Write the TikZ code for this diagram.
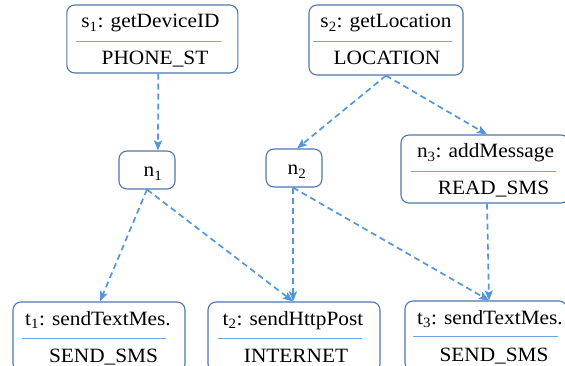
\documentclass[tikz,border=0pt]{standalone}
\usepackage{fontspec}
\setmainfont{Liberation Serif}
\newfontfamily\boxfont{Liberation Serif}[FakeStretch=1.05]
\usetikzlibrary{arrows.meta}
\definecolor{boxc}{RGB}{78,118,172}
\definecolor{divc}{RGB}{112,165,218}
\definecolor{arrc}{RGB}{82,150,220}
\begin{document}
\begin{tikzpicture}[x=1pt,y=-1pt,
  box/.style={draw=boxc, line width=1.1pt, rounded corners=8pt, inner sep=0pt},
  txt/.style={anchor=base, inner sep=0pt, font=\boxfont\fontsize{20.3}{24}\selectfont},
  divider/.style={draw=divc, line width=1pt},
  conn/.style={draw=arrc, line width=1.7pt, dash pattern=on 6pt off 4pt,
    -{Stealth[length=10pt,width=8pt,inset=2pt]}}]
\useasboundingbox (0,0) rectangle (565,366);
\clip (0,0) rectangle (565,366);
% boxes
\node[box, minimum width=171pt, minimum height=68pt] (s1) at (152.3,39) {};
\node[box, minimum width=154pt, minimum height=70pt] (s2) at (386,40) {};
\node[box, minimum width=56pt, minimum height=38pt] (n1) at (147,170) {};
\node[box, minimum width=56pt, minimum height=38pt] (n2) at (294,168) {};
\node[box, minimum width=168pt, minimum height=68pt] (n3) at (485,169) {};
\node[box, minimum width=172pt, minimum height=70pt] (t1) at (99,337) {};
\node[box, minimum width=172pt, minimum height=70pt] (t2) at (294,337) {};
\node[box, minimum width=162pt, minimum height=70pt] (t3) at (486,336) {};
% dividers
\draw[divider] (76,42) -- (221,42);
\draw[divider] (313,42) -- (452,42);
\draw[divider] (411,172) -- (556,172);
\draw[divider] (22,338) -- (166,338);
\draw[divider] (218,338) -- (362,338);
\draw[divider] (413,336) -- (558,336);
% texts
\node[txt] (s1a) at (150.5,28) {s\textsubscript{1}: getDeviceID};
\node[txt] (s1b) at (155,65) {PHONE\_ST};
\node[txt] (s2a) at (386,28) {s\textsubscript{2}: getLocation};
\node[txt] (s2b) at (387,65) {LOCATION};
\node[txt] (n1a) at (153,177) {n\textsubscript{1}};
\node[txt] (n2a) at (297,175) {n\textsubscript{2}};
\node[txt] (n3a) at (485.5,158) {n\textsubscript{3}: addMessage};
\node[txt] (n3b) at (493.5,195) {READ\_SMS};
\node[txt] (t1a) at (98,325) {t\textsubscript{1}: sendTextMes.};
\node[txt] (t1b) at (103.5,362) {SEND\_SMS};
\node[txt] (t2a) at (293,325) {t\textsubscript{2}: sendHttpPost};
\node[txt] (t2b) at (296,362) {INTERNET};
\node[txt] (t3a) at (490,324) {t\textsubscript{3}: sendTextMes.};
\node[txt] (t3b) at (494,361) {SEND\_SMS};
% connectors
\draw[conn] ([xshift=6pt]s1.south) -- ([xshift=11pt]n1.north);
\draw[conn] (s2.south) -- ([xshift=3pt]n2.north);
\draw[conn] (s2.south) -- ([xshift=2pt]n3.north);
\draw[conn] (n1.south) -- ([xshift=1pt]t1.north);
\draw[conn] (n1.south) -- ([xshift=-1pt]t2.north);
\draw[conn] ([xshift=-1pt]n2.south) -- ([xshift=-1pt]t2.north);
\draw[conn] ([xshift=-1pt]n2.south) -- ([xshift=3pt]t3.north);
\draw[conn] ([xshift=2pt]n3.south) -- ([xshift=3pt]t3.north);
\end{tikzpicture}
\end{document}
